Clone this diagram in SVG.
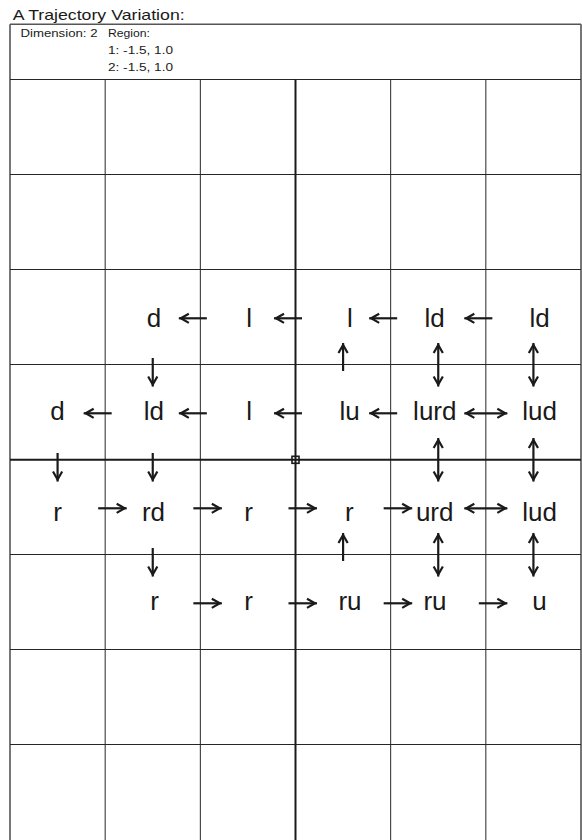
<svg xmlns="http://www.w3.org/2000/svg" width="582" height="840" viewBox="0 0 582 840">
<style>
.bg{fill:#fff}
.grid{stroke:#262626;stroke-width:1;fill:none}
.border{stroke:#555;stroke-width:1.6;fill:none}
.axis{stroke:#1a1a1a;stroke-width:2;fill:none}
.title{font-family:"Liberation Sans",Arial,sans-serif;font-size:15px;fill:#1a1a1a}
.hdr{font-family:"Liberation Sans",Arial,sans-serif;font-size:11px;fill:#1a1a1a}
.lbl{font-family:"Liberation Sans",Arial,sans-serif;font-size:26px;fill:#1a1a1a;text-anchor:middle}
.arr{stroke:#1a1a1a;stroke-width:2.2;fill:none;marker-end:url(#ah)}
.dbl{stroke:#1a1a1a;stroke-width:2.2;fill:none;marker-start:url(#ah);marker-end:url(#ah)}
</style>
<defs>
<marker id="ah" markerUnits="userSpaceOnUse" viewBox="-12 -6 14 12" refX="0" refY="0" markerWidth="14" markerHeight="12" orient="auto-start-reverse" overflow="visible">
<path d="M-10,-4.6 L-2,0 L-10,4.6" fill="none" stroke="#1a1a1a" stroke-width="2.2"/>
</marker>
</defs>
<rect class="bg" x="0" y="0" width="582" height="840"/>

<g id="header">
<text class="title" x="12.7" y="20" textLength="172" lengthAdjust="spacingAndGlyphs">A Trajectory Variation:</text>
<text class="hdr" x="20.5" y="37" textLength="77" lengthAdjust="spacingAndGlyphs">Dimension: 2</text>
<text class="hdr" x="108" y="37" textLength="42" lengthAdjust="spacingAndGlyphs">Region:</text>
<text class="hdr" x="108" y="54" textLength="65" lengthAdjust="spacingAndGlyphs">1: -1.5, 1.0</text>
<text class="hdr" x="108" y="70.5" textLength="65" lengthAdjust="spacingAndGlyphs">2: -1.5, 1.0</text>
</g>

<g id="grid">
<line class="border" x1="10" y1="24.3" x2="581" y2="24.3"/>
<line class="border" x1="10" y1="24.3" x2="10" y2="840"/>
<line class="border" x1="581" y1="24.3" x2="581" y2="840"/>
<line class="grid" x1="10" y1="79.5" x2="581" y2="79.5"/>
<line class="grid" x1="10" y1="174.5" x2="581" y2="174.5"/>
<line class="grid" x1="10" y1="269.5" x2="581" y2="269.5"/>
<line class="grid" x1="10" y1="364.5" x2="581" y2="364.5"/>
<line class="grid" x1="10" y1="554.5" x2="581" y2="554.5"/>
<line class="grid" x1="10" y1="649.5" x2="581" y2="649.5"/>
<line class="grid" x1="10" y1="744.5" x2="581" y2="744.5"/>
<line class="grid" x1="105.17" y1="79.5" x2="105.17" y2="840"/>
<line class="grid" x1="200.33" y1="79.5" x2="200.33" y2="840"/>
<line class="grid" x1="390.67" y1="79.5" x2="390.67" y2="840"/>
<line class="grid" x1="485.83" y1="79.5" x2="485.83" y2="840"/>
<line class="axis" x1="10" y1="459.8" x2="581" y2="459.8"/>
<line class="axis" x1="295.5" y1="79.5" x2="295.5" y2="840"/>
<rect x="292" y="456.3" width="7" height="7" fill="none" stroke="#1a1a1a" stroke-width="1.6"/>
</g>

<g id="n-0-1"><text class="lbl" x="154" y="327">d</text></g>
<g id="n-0-2"><text class="lbl" x="249.2" y="327">l</text></g>
<g id="n-0-3"><text class="lbl" x="350" y="327">l</text></g>
<g id="n-0-4"><text class="lbl" x="434.7" y="327">ld</text></g>
<g id="n-0-5"><text class="lbl" x="539.7" y="327">ld</text></g>

<g id="n-1-0"><text class="lbl" x="57.5" y="420">d</text></g>
<g id="n-1-1"><text class="lbl" x="153.8" y="420">ld</text></g>
<g id="n-1-2"><text class="lbl" x="249.2" y="420">l</text></g>
<g id="n-1-3"><text class="lbl" x="349.5" y="420">lu</text></g>
<g id="n-1-4"><text class="lbl" x="434.8" y="420">lurd</text></g>
<g id="n-1-5"><text class="lbl" x="539.5" y="420">lud</text></g>

<g id="n-2-0"><text class="lbl" x="57.6" y="520.5">r</text></g>
<g id="n-2-1"><text class="lbl" x="153.5" y="520.5">rd</text></g>
<g id="n-2-2"><text class="lbl" x="248.6" y="520.5">r</text></g>
<g id="n-2-3"><text class="lbl" x="349.3" y="520.5">r</text></g>
<g id="n-2-4"><text class="lbl" x="434.7" y="520.5">urd</text></g>
<g id="n-2-5"><text class="lbl" x="539.5" y="520.5">lud</text></g>

<g id="n-3-1"><text class="lbl" x="154.6" y="610">r</text></g>
<g id="n-3-2"><text class="lbl" x="248.6" y="610">r</text></g>
<g id="n-3-3"><text class="lbl" x="350" y="610">ru</text></g>
<g id="n-3-4"><text class="lbl" x="435" y="610">ru</text></g>
<g id="n-3-5"><text class="lbl" x="539.5" y="610">u</text></g>

<g id="connectors">
<!-- row 0 left arrows -->
<line class="arr" x1="206.83" y1="318.3" x2="178.83" y2="318.3"/>
<line class="arr" x1="302" y1="318.3" x2="274" y2="318.3"/>
<line class="arr" x1="397.17" y1="318.3" x2="369.17" y2="318.3"/>
<line class="arr" x1="492.33" y1="318.3" x2="464.33" y2="318.3"/>
<!-- row 1 -->
<line class="arr" x1="111.67" y1="413.3" x2="83.67" y2="413.3"/>
<line class="arr" x1="206.83" y1="413.3" x2="178.83" y2="413.3"/>
<line class="arr" x1="302" y1="413.3" x2="274" y2="413.3"/>
<line class="arr" x1="397.17" y1="413.3" x2="369.17" y2="413.3"/>
<line class="dbl" x1="464.33" y1="413.3" x2="507.33" y2="413.3"/>
<!-- row 2 right arrows -->
<line class="arr" x1="98.17" y1="508.3" x2="126.67" y2="508.3"/>
<line class="arr" x1="193.33" y1="508.3" x2="221.83" y2="508.3"/>
<line class="arr" x1="288.5" y1="508.3" x2="317" y2="508.3"/>
<line class="arr" x1="383.67" y1="508.3" x2="412.17" y2="508.3"/>
<line class="dbl" x1="464.33" y1="508.3" x2="507.33" y2="508.3"/>
<!-- row 3 -->
<line class="arr" x1="193.33" y1="603.3" x2="221.83" y2="603.3"/>
<line class="arr" x1="288.5" y1="603.3" x2="317" y2="603.3"/>
<line class="arr" x1="383.67" y1="603.3" x2="412.17" y2="603.3"/>
<line class="arr" x1="478.83" y1="603.3" x2="507.33" y2="603.3"/>
<!-- vertical between rows 0 and 1 -->
<line class="arr" x1="152.75" y1="358" x2="152.75" y2="386.5"/>
<line class="arr" x1="343.08" y1="371" x2="343.08" y2="343"/>
<line class="dbl" x1="438.25" y1="343" x2="438.25" y2="386.5"/>
<line class="dbl" x1="533.42" y1="343" x2="533.42" y2="386.5"/>
<!-- vertical between rows 1 and 2 -->
<line class="arr" x1="57.58" y1="453" x2="57.58" y2="481.5"/>
<line class="arr" x1="152.75" y1="453" x2="152.75" y2="481.5"/>
<line class="dbl" x1="438.25" y1="438" x2="438.25" y2="481.5"/>
<line class="dbl" x1="533.42" y1="438" x2="533.42" y2="481.5"/>
<!-- vertical between rows 2 and 3 -->
<line class="arr" x1="152.75" y1="548" x2="152.75" y2="576.5"/>
<line class="arr" x1="343.08" y1="561" x2="343.08" y2="533"/>
<line class="dbl" x1="438.25" y1="533" x2="438.25" y2="576.5"/>
<line class="dbl" x1="533.42" y1="533" x2="533.42" y2="576.5"/>
</g>
</svg>
